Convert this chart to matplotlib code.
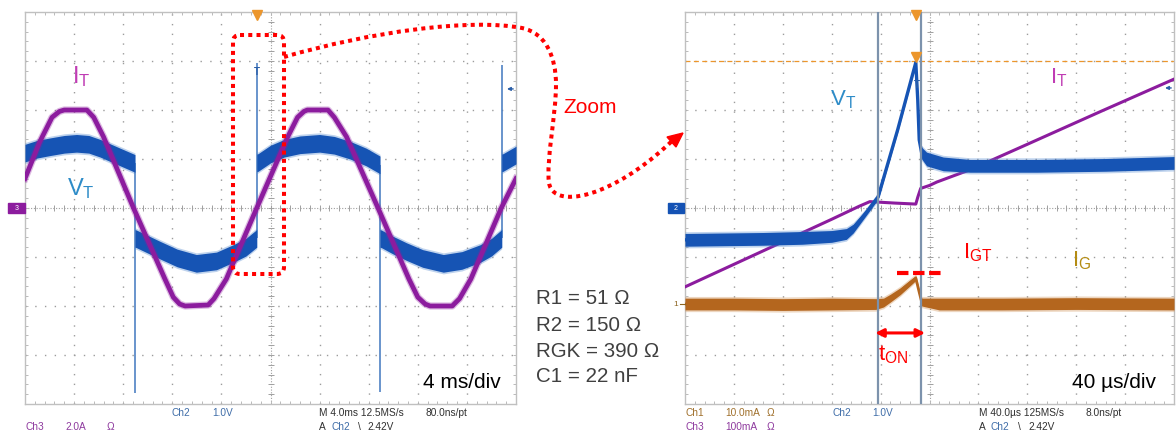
import numpy as np
import matplotlib
matplotlib.use("Agg")
import matplotlib.pyplot as plt
from matplotlib.patches import FancyBboxPatch, Polygon, PathPatch, Rectangle
from matplotlib.path import Path

plt.rcParams["font.family"] = ["Liberation Sans", "DejaVu Sans"]
plt.rcParams["mathtext.default"] = "regular"

# ---------------- data, in screen divisions (x: 0..10, y: -4..4) ----------------
# Left capture (4 ms/div)
it_l_t = [0.0, 0.3, 0.55, 0.7, 0.8, 1.26, 1.4, 1.6, 2.21, 2.85, 3.02, 3.15, 3.26, 3.73,
          3.85, 4.1, 4.72, 5.35, 5.55, 5.68, 5.75, 6.17, 6.3, 6.55, 7.19, 7.82, 8.0, 8.15,
          8.25, 8.7, 8.85, 9.08, 9.7, 10.0]
it_l_v = [0.6, 1.35, 1.85, 1.97, 2.0, 2.0, 1.85, 1.45, 0.0, -1.45, -1.82, -1.96, -2.0, -1.98,
          -1.85, -1.45, 0.0, 1.45, 1.85, 1.97, 2.0, 2.0, 1.85, 1.45, 0.0, -1.45, -1.82, -1.96,
          -2.0, -2.0, -1.85, -1.45, 0.0, 0.6]

vt_l_t = [0.0, 0.25, 0.51, 0.8, 1.05, 1.3, 1.53, 1.94, 2.24, 2.24, 2.27, 2.5, 2.75, 3.1,
          3.49, 3.9, 4.24, 4.5, 4.72, 4.72, 4.75, 5.0, 5.28, 5.6, 6.0, 6.3, 6.62, 6.95, 7.23,
          7.23, 7.26, 7.5, 7.77, 8.1, 8.52, 8.9, 9.27, 9.5, 9.71, 9.71, 9.74, 10.0]
vt_l_v = [1.12, 1.2, 1.25, 1.3, 1.32, 1.3, 1.22, 1.04, 0.91, -0.62, -0.63, -0.74, -0.86, -1.02,
          -1.13, -1.08, -0.93, -0.8, -0.62, 0.92, 0.93, 1.1, 1.22, 1.29, 1.32, 1.28, 1.18, 1.04,
          0.88, -0.62, -0.63, -0.76, -0.89, -1.03, -1.13, -1.07, -0.93, -0.8, -0.62, 0.92,
          0.93, 1.08]
vt_l_noise = 0.18
vt_l_spike_t = [2.24, 4.72, 7.23, 9.72]
vt_l_spike_from = [0.91, -0.62, 0.88, -0.62]
vt_l_spike_to = [-3.78, 2.96, -3.75, 2.92]

# Right capture (40 us/div)
it_r_t = [0.0, 1.0, 2.0, 3.0, 3.55, 3.78, 3.95, 4.3, 4.72, 4.76, 4.82, 5.0, 5.15, 5.5, 5.83,
          7.0, 8.5, 10.0]
it_r_v = [-1.61, -1.15, -0.69, -0.23, 0.03, 0.13, 0.12, 0.10, 0.08, 0.22, 0.40, 0.46, 0.53,
          0.66, 0.78, 1.30, 1.97, 2.63]

vt_r_t = [0.0, 0.8, 1.6, 2.4, 3.0, 3.3, 3.44, 3.7, 3.95, 4.35, 4.72, 4.76, 4.79, 4.84, 4.94,
          5.28, 5.83, 7.2, 8.6, 10.0]
vt_r_v = [-0.65, -0.64, -0.63, -0.61, -0.58, -0.53, -0.42, -0.1, 0.23, 1.6, 2.97, 2.2, 1.39,
          1.12, 1.0, 0.9, 0.86, 0.86, 0.88, 0.92]
vt_r_noise = [0.13, 0.13, 0.13, 0.13, 0.12, 0.11, 0.09, 0.06, 0.05, 0.04, 0.03, 0.03, 0.05,
              0.12, 0.14, 0.14, 0.13, 0.13, 0.13, 0.13]

ig_r_t = [0.0, 1.0, 2.0, 3.0, 3.9, 4.06, 4.2, 4.4, 4.6, 4.72, 4.78, 4.84, 5.2, 6.5, 8.0, 10.0]
ig_r_v = [-1.96, -1.96, -1.97, -1.96, -1.96, -1.93, -1.84, -1.7, -1.53, -1.43, -1.68, -1.92,
          -1.96, -1.96, -1.95, -1.96]
ig_r_noise = [0.12, 0.12, 0.12, 0.12, 0.11, 0.09, 0.08, 0.07, 0.06, 0.05, 0.05, 0.08, 0.12,
              0.12, 0.12, 0.12]

cursor_t = [3.94, 4.82]
trigger_level = 3.0
igt_level = -1.32
igt_span = [4.33, 5.23]
ton_span = [3.89, 4.91]

params_text = ["R1 = 51 \u03a9", "R2 = 150 \u03a9", "RGK = 390 \u03a9", "C1 = 22 nF"]

# ---------------- colours ----------------
C_VT = "#1654b4"
C_VT_FUZZ = "#4a82cc"
C_VT_LABEL = "#2e8cc8"
C_IT = "#8c1c9e"
C_IT_LABEL = "#c03cb4"
C_IG = "#b4661e"
C_IG_FUZZ = "#cc8c4c"
C_IG_LABEL = "#b48c14"
C_RED = "#ff0000"
C_GRID = "#9c9c9c"
C_CURSOR = "#7c92ac"
C_ORANGE = "#ec962c"

W, H, DPI = 1176, 432, 100
fig = plt.figure(figsize=(W / DPI, H / DPI), dpi=DPI, facecolor="white")


def px_axes(x0, y0, x1, y1):
    return fig.add_axes([x0 / W, 1 - y1 / H, (x1 - x0) / W, (y1 - y0) / H])


def setup_scope(ax):
    ax.set_xlim(0, 10)
    ax.set_ylim(-4, 4)
    ax.set_facecolor("white")
    for s in ax.spines.values():
        s.set_color("#c0c0c0")
        s.set_linewidth(1.0)
    ax.set_xticks(np.arange(0, 10.01, 0.2))
    ax.set_yticks(np.arange(-4, 4.01, 0.2))
    ax.tick_params(direction="in", length=2.5, width=0.6, colors="#b0b0b0", top=True,
                   right=True, labelbottom=False, labelleft=False)
    for gx in range(1, 10):
        if gx != 5:
            ax.axvline(gx, color=C_GRID, lw=1.0, ls=(0, (1, 6)), zorder=0)
    for gy in range(-3, 4):
        if gy != 0:
            ax.axhline(gy, color=C_GRID, lw=1.0, ls=(0, (1, 6)), zorder=0)
    ax.axvline(5, color="#a0a0a0", lw=0.8, ls=(0, (1, 1.5)), zorder=0)
    ax.axhline(0, color="#a0a0a0", lw=0.8, ls=(0, (1, 1.5)), zorder=0)
    tx = np.arange(0, 10.01, 0.2)
    ty = np.arange(-4, 4.01, 0.2)
    ax.plot(tx, np.zeros_like(tx), ls="none", marker="|", ms=4.5, mew=0.7,
            color="#a0a0a0", zorder=0)
    ax.plot(np.full_like(ty, 5.0), ty, ls="none", marker="_", ms=4.5, mew=0.7,
            color="#a0a0a0", zorder=0)


def band(ax, t, v, half, core, fuzz, z, lw_center=0.0):
    t = np.asarray(t, float)
    v = np.asarray(v, float)
    h = np.broadcast_to(np.asarray(half, float), v.shape)
    ax.fill_between(t, v - h - 0.035, v + h + 0.035, color=fuzz, alpha=0.35, lw=0, zorder=z)
    ax.fill_between(t, v - h, v + h, color=core, lw=0, zorder=z + 0.1)
    if lw_center:
        ax.plot(t, v, color=core, lw=lw_center, zorder=z + 0.2, solid_capstyle="butt")


# ---------------- left scope ----------------
axl = px_axes(25, 12, 516, 404)
setup_scope(axl)
band(axl, vt_l_t, vt_l_v, vt_l_noise, C_VT, C_VT_FUZZ, 3)
axl.vlines(vt_l_spike_t, vt_l_spike_from, vt_l_spike_to, color="#4f82c4", lw=1.2, zorder=3)
axl.plot(it_l_t, it_l_v, color=C_IT, lw=5.2, alpha=0.3, zorder=4)
axl.plot(it_l_t, it_l_v, color=C_IT, lw=3.4, zorder=4.1)
axl.plot([4.72], [3.93], marker="v", ms=7, color=C_ORANGE, ls="none", zorder=6, clip_on=False)
axl.text(4.72, 2.78, "T", color="#2b5fa8", fontsize=7, fontweight="bold", ha="center",
         va="center", zorder=6)
axl.annotate("", xy=(9.76, 2.43), xytext=(10.0, 2.43),
             arrowprops=dict(arrowstyle="-|>", color="#2b5fa8", lw=1.0, mutation_scale=5))
axl.text(0.96, 2.54, r"$I_T$", color=C_IT_LABEL, fontsize=17, va="baseline", zorder=7)
axl.text(0.86, 0.265, r"$V_T$", color=C_VT_LABEL, fontsize=17, va="baseline", zorder=7)
axl.text(8.1, -3.67, "4 ms/div", color="black", fontsize=15, va="baseline", zorder=7)

# ---------------- right scope ----------------
axr = px_axes(685, 12, 1174, 404)
setup_scope(axr)
axr.axhline(trigger_level, color=C_ORANGE, lw=0.9, ls=(0, (4, 2.7)), zorder=2)
band(axr, ig_r_t, ig_r_v, ig_r_noise, C_IG, C_IG_FUZZ, 3, lw_center=2.0)
axr.plot(it_r_t, it_r_v, color=C_IT, lw=2.2, zorder=3.5)
band(axr, vt_r_t, vt_r_v, vt_r_noise, C_VT, C_VT_FUZZ, 4, lw_center=2.4)
for ct in cursor_t:
    axr.axvline(ct, color=C_CURSOR, lw=1.6, zorder=5)
axr.plot([4.72], [3.93], marker="v", ms=7, color=C_ORANGE, ls="none", zorder=6, clip_on=False)
axr.plot([4.72], [3.08], marker="v", ms=7, color=C_ORANGE, ls="none", zorder=6)
axr.text(4.74, 2.51, "T", color="#2b5fa8", fontsize=7, fontweight="bold", ha="center",
         va="center", zorder=6)
axr.annotate("", xy=(9.76, 2.45), xytext=(10.0, 2.45),
             arrowprops=dict(arrowstyle="-|>", color="#2b5fa8", lw=1.0, mutation_scale=5))
axr.plot(igt_span, [igt_level, igt_level], color=C_RED, lw=3, ls=(0, (2.75, 1.1)),
         solid_capstyle="butt", dash_capstyle="butt", zorder=7)
axr.annotate("", xy=(ton_span[0], -2.55), xytext=(ton_span[1], -2.55),
             arrowprops=dict(arrowstyle="<|-|>", color=C_RED, lw=2.2, mutation_scale=12,
                             shrinkA=0, shrinkB=0), zorder=7)
axr.text(3.95, -3.1, r"$t_{ON}$", color=C_RED, fontsize=16, va="baseline", zorder=7)
axr.text(5.69, -1.02, r"$I_{GT}$", color=C_RED, fontsize=16, va="baseline", zorder=7)
axr.text(7.91, -1.2, r"$I_G$", color=C_IG_LABEL, fontsize=16, va="baseline", zorder=7)
axr.text(7.46, 2.54, r"$I_T$", color=C_IT_LABEL, fontsize=16, va="baseline", zorder=7)
axr.text(2.97, 2.1, r"$V_T$", color=C_VT_LABEL, fontsize=16, va="baseline", zorder=7)
axr.text(7.91, -3.67, "40 \u00b5s/div", color="black", fontsize=15, va="baseline", zorder=7)

# ---------------- overlay (pixel coordinates) ----------------
ov = fig.add_axes([0, 0, 1, 1])
ov.set_xlim(0, W)
ov.set_ylim(H, 0)
ov.axis("off")
ov.patch.set_alpha(0)
ov.set_zorder(10)

dot = (0, (1, 1.05))
ov.add_patch(FancyBboxPatch((233, 35), 51, 239, boxstyle="round,pad=0,rounding_size=7",
                            fill=False, ec=C_RED, lw=2.9, ls=dot))
verts = [(284, 57),
         (370, 32), (470, 18), (522, 28),
         (545, 33), (556, 55), (556, 85),
         (556, 115), (546, 160), (549, 183),
         (552, 200), (575, 200), (600, 190),
         (625, 180), (650, 162), (672, 141)]
codes = [Path.MOVETO] + [Path.CURVE4] * 15
ov.add_patch(PathPatch(Path(verts, codes), fill=False, ec=C_RED, lw=2.9, ls=dot))
ov.add_patch(Polygon([(683, 133), (667, 137), (676, 147)], closed=True, color=C_RED))
ov.text(563, 113, "Zoom", color=C_RED, fontsize=15, va="baseline")

for i, s in enumerate(params_text):
    ov.text(535.5, [304, 330.7, 356.7, 382.3][i], s, color="#404040", fontsize=14.8,
            va="baseline")

# ground markers
ov.add_patch(Rectangle((8, 203), 17, 10, color="#8c1c9e"))
ov.text(16.5, 208.5, "3", color="white", fontsize=5, ha="center", va="center")
ov.add_patch(Rectangle((668, 203), 16, 10, color="#1452b4"))
ov.text(676, 208.5, "2", color="white", fontsize=5, ha="center", va="center")
ov.text(676, 304, "1", color="#8c6420", fontsize=6, ha="center", va="center")
ov.plot([680, 685], [304, 304], color="#8c6420", lw=0.8)

# scope status text
C_T2 = "#3f6da8"
C_T3 = "#8e3a9e"
C_T1 = "#a0702c"
C_TK = "#303030"
fs = 7.3
r1, r2 = 416.5, 429.5
for x, y, s, c in [
    (172, r1, "Ch2", C_T2), (212.7, r1, "1.0V", C_T2),
    (319.3, r1, "M 4.0ms 12.5MS/s", C_TK), (426, r1, "80.0ns/pt", C_TK),
    (26, r2, "Ch3", C_T3), (65, r2, "2.0A", C_T3), (106.7, r2, "\u03a9", C_T3),
    (319.3, r2, "A", C_TK), (331, r2, "Ch2", C_T2), (358.3, r2, "\\", C_TK),
    (367.7, r2, "2.42V", C_TK),
    (685, r1, "Ch1", C_T1), (725, r1, "10.0mA", C_T1), (766.7, r1, "\u03a9", C_T1),
    (832.3, r1, "Ch2", C_T2), (872.3, r1, "1.0V", C_T2),
    (979.3, r1, "M 40.0\u00b5s 125MS/s", C_TK), (1086, r1, "8.0ns/pt", C_TK),
    (685, r2, "Ch3", C_T3), (725, r2, "100mA", C_T3), (766.7, r2, "\u03a9", C_T3),
    (979.3, r2, "A", C_TK), (990.7, r2, "Ch2", C_T2), (1017.7, r2, "\\", C_TK),
    (1028.3, r2, "2.42V", C_TK),
]:
    ov.text(x, y, s, color=c, fontsize=fs, va="baseline")

fig.savefig("out.png", dpi=DPI, facecolor="white")
